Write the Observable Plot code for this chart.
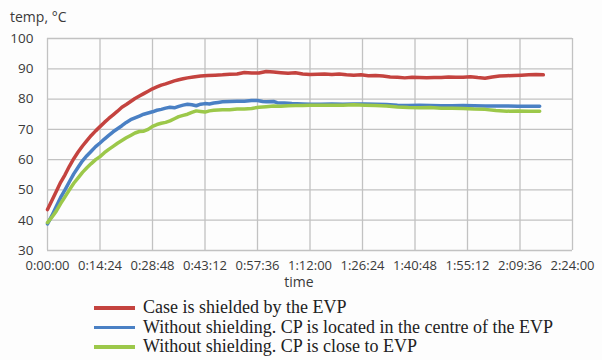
<!DOCTYPE html>
<html><head><meta charset="utf-8">
<script src="https://cdn.jsdelivr.net/npm/d3@7"></script>
<script src="https://cdn.jsdelivr.net/npm/@observablehq/plot@0.6"></script>
<style>
body{margin:0;background:#fdfdfd;width:602px;height:360px;overflow:hidden;position:relative;font-family:"Open Sans",sans-serif;color:#3a3a3a}
#title{position:absolute;left:10px;top:7px;font-size:14px;line-height:19px}
#chart{position:absolute;left:0;top:28px}
#xlabel{position:absolute;top:272px;left:0;width:598px;text-align:center;font-size:14px;line-height:19px}
#legend{position:absolute;left:94px;top:298px;font-family:"Liberation Serif",serif;font-size:18px;color:#222}
.row{display:flex;align-items:center;height:19.5px;white-space:nowrap}
.sw{width:41px;height:3.5px;margin-right:8px;flex:none}
</style>
</head><body>
<div id="title">temp, °C</div>
<div id="chart"></div>
<div id="xlabel">time</div>
<div id="legend"></div>
<script>
// series names and colours
const seriesNames = ["Case is shielded by the EVP", "Without shielding. CP is located in the centre of the EVP", "Without shielding. CP is close to EVP"];
const seriesColors = ["#c4433f", "#4a80c4", "#9cc84a"];

// x ticks in minutes (0:00:00 ... 2:24:00) and y ticks
const xTicks = [0, 14.4, 28.8, 43.2, 57.6, 72, 86.4, 100.8, 115.2, 129.6, 144];
const yTicks = [30, 40, 50, 60, 70, 80, 90, 100];

// Case is shielded by the EVP (red)
const redTime = [0,1.2,2.4,3.6,4.8,6,7.2,8.4,9.6,10.8,12,13.2,14.4,15.6,16.8,18,19.2,20.4,21.6,22.8,24,25.2,26.4,27.6,28.8,30,31.2,32.4,33.6,34.8,36,37.2,38.4,40,42,44,46,48,50,52,54,56,58,60,62,64,66,68,70,72,74,76,78,80,82,84,86,88,90,92,94,96,98,100,102,104,106,108,110,112,114,116,118,120,122,124,126,128,130,132,134,136];
const redTemp = [43.5,46.5,49.5,52.5,55,57.8,60.3,62.5,64.5,66.3,68,69.5,70.9,72.3,73.6,74.8,76,77.3,78.2,79.2,80.2,81,81.8,82.6,83.4,84,84.6,85,85.5,86,86.4,86.7,87,87.3,87.6,87.8,87.9,88,88.2,88.3,88.8,88.6,88.6,89.1,88.9,88.7,88.5,88.7,88.3,88.1,88.2,88.3,88.1,88.3,88,87.9,88,87.7,87.8,87.6,87.3,87.2,87,87.2,87.1,87,87.1,87.1,87.3,87.2,87.2,87.4,87.1,86.9,87.3,87.6,87.7,87.8,87.9,88,88.1,88];

// Without shielding, CP in the centre (blue)
const blueTime = [0,1.2,2.4,3.6,4.8,6,7.2,8.4,9.6,10.8,12,13.2,14.4,15.6,16.8,18,19.2,20.4,21.6,22.8,24,25.2,26.4,27.6,28.8,30,31.2,32.4,33.6,34.8,36,37.2,38.4,39.6,40.8,42,43.2,44.4,45.6,46.8,48,50,52,54,56,57.6,59,60,62,63,65,67,70,72,75,78,81,84,87,90,93,96,99,102,105,108,111,114,117,120,123,126,129,132,135];
const blueTemp = [38.8,41.5,44.5,47.5,50,52.7,55.3,57.5,59.6,61.3,62.8,64.3,65.5,66.8,68,69.2,70.2,71.2,72.3,73.2,73.8,74.4,75,75.4,75.8,76.3,76.6,77,77.3,77.1,77.6,78,78.3,78.1,77.8,78.3,78.5,78.4,78.7,78.9,79.1,79.2,79.3,79.3,79.5,79.5,79.2,79.1,79.2,78.8,78.7,78.5,78.4,78.3,78.3,78.4,78.3,78.4,78.4,78.3,78.2,78,77.9,78,77.9,77.8,77.8,77.9,77.8,77.7,77.7,77.7,77.6,77.6,77.6];

// Without shielding, CP close to EVP (green)
const greenTime = [0,1.2,2.4,3.6,4.8,6,7.2,8.4,9.6,10.8,12,13.2,14.4,15.6,16.8,18,19.2,20.4,21.6,22.8,24,25.2,26.4,27.6,28.8,30,31.2,32.4,33.6,34.8,36,37.2,38.4,39.6,40.8,42,43.2,44.4,45.6,46.8,48,50,52,54,56,58,60,62,64,66,68,70,72,75,78,81,84,87,90,93,96,99,102,105,108,111,114,117,120,123,126,129,132,135];
const greenTemp = [39.2,41,43,45.5,47.7,50,52.2,54,55.8,57.3,58.7,60,61,62.3,63.4,64.4,65.4,66.3,67.2,68,68.8,69.3,69.4,70,71,71.6,72,72.3,72.8,73.5,74.2,74.6,75,75.6,76.1,75.9,75.7,76.1,76.3,76.4,76.5,76.5,76.7,76.7,76.9,77.3,77.5,77.7,77.6,77.8,77.9,77.9,78,78,78,78,78.1,78,77.9,77.7,77.4,77.2,77.1,77.2,77,77,76.9,76.7,76.6,76.2,76,76.1,76,76];

const times = [redTime, blueTime, greenTime];
const temps = [redTemp, blueTemp, greenTemp];
const rows = [];
seriesNames.forEach((name, i) => times[i].forEach((t, j) => rows.push({series: name, t, v: temps[i][j]})));

const fmt = m => {
  const s = Math.round(m * 60);
  const h = Math.floor(s / 3600), mm = Math.floor((s % 3600) / 60), ss = s % 60;
  return `${h}:${String(mm).padStart(2, "0")}:${String(ss).padStart(2, "0")}`;
};

const plot = Plot.plot({
  width: 602,
  height: 250,
  marginTop: 10,
  marginBottom: 28,
  marginLeft: 47,
  marginRight: 30,
  style: {fontFamily: "Open Sans, sans-serif", fontSize: "13px", color: "#3a3a3a", background: "transparent"},
  x: {domain: [0, 144]},
  y: {domain: [30, 100]},
  color: {domain: seriesNames, range: seriesColors},
  marks: [
    Plot.gridY(yTicks, {stroke: "#c2c2c2", strokeOpacity: 1, strokeWidth: 1.3}),
    Plot.gridX(xTicks, {stroke: "#c2c2c2", strokeOpacity: 1, strokeWidth: 1.3}),
    Plot.axisY(yTicks, {tickSize: 0, tickPadding: 14, label: null, fontSize: 13.5}),
    Plot.axisX(xTicks, {tickSize: 0, tickPadding: 10, label: null, tickFormat: fmt, fontSize: 13}),
    Plot.line(rows, {x: "t", y: "v", z: "series", stroke: "series", strokeWidth: 3.5, curve: "linear"})
  ]
});
document.getElementById("chart").appendChild(plot);

const legend = document.getElementById("legend");
seriesNames.forEach((name, i) => {
  const r = document.createElement("div"); r.className = "row";
  const sw = document.createElement("span"); sw.className = "sw"; sw.style.background = seriesColors[i];
  const tx = document.createElement("span"); tx.textContent = name;
  r.appendChild(sw); r.appendChild(tx); legend.appendChild(r);
});
</script>
</body></html>
